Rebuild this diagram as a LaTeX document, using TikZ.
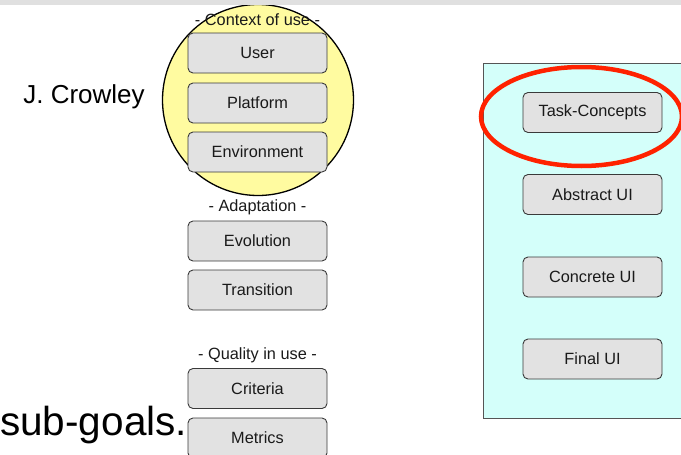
\documentclass[tikz,border=0pt]{standalone}
\usepackage{fontspec}
\setmainfont{Liberation Sans}
\usetikzlibrary{shapes.geometric}
\definecolor{boxfill}{HTML}{E2E2E2}
\definecolor{boxline}{HTML}{3A3A3A}
\definecolor{ctxyellow}{HTML}{FFFBA0}
\definecolor{panelcyan}{HTML}{D4FFFA}
\definecolor{panelline}{HTML}{555555}
\definecolor{ringred}{HTML}{FF2200}
\definecolor{bandgray}{HTML}{E0E0E0}
\definecolor{txt}{HTML}{1A1A1A}
\begin{document}
\begin{tikzpicture}[x=1pt,y=-1pt,
  uibox/.style={draw=boxline, fill=boxfill, line width=0.9pt, rounded corners=5pt,
    minimum width=139pt, minimum height=40pt, inner sep=0pt, text=txt,
    font=\fontsize{16.3}{19}\selectfont},
  grouplabel/.style={inner sep=0pt, text=txt, font=\fontsize{16.3}{19}\selectfont}]
\useasboundingbox (0,0) rectangle (681,455);
\clip (0,0) rectangle (681,455);
% context circle
\node[circle, draw=black, line width=1.3pt, fill=ctxyellow, minimum size=191pt, inner sep=0pt] (ctx) at (258,100) {};
% right panel
\node[draw=panelline, fill=panelcyan, line width=1pt, minimum width=210pt, minimum height=355pt, inner sep=0pt, anchor=north west] (panel) at (483,63) {};
% top band
\fill[bandgray] (0,0) rectangle (681,5);
% labels
\node[grouplabel] (lctx) at (257.5,20) {- Context of use -};
\node[grouplabel] (lada) at (257.5,207.5) {- Adaptation -};
\node[grouplabel] (lqua) at (257.5,355) {- Quality in use -};
% left boxes
\node[uibox] (user) at (257.5,53) {User};
\node[uibox] (plat) at (257.5,103) {Platform};
\node[uibox] (env) at (257.5,152) {Environment};
\node[uibox] (evo) at (257.5,241) {Evolution};
\node[uibox] (trans) at (257.5,290) {Transition};
\node[uibox] (crit) at (257.5,388.5) {Criteria};
\node[uibox] (metr) at (257.5,438) {Metrics};
% right boxes
\node[uibox] (task) at (592.5,112.5) {Task-Concepts};
\node[uibox] (abs) at (592.5,194.5) {Abstract UI};
\node[uibox] (conc) at (592.5,277) {Concrete UI};
\node[uibox] (fin) at (592.5,359) {Final UI};
% red ring
\node[ellipse, draw=ringred, line width=4.5pt, minimum width=201pt, minimum height=99pt, inner sep=0pt] (ring) at (581.5,116.5) {};
% side texts
\node[inner sep=0pt, anchor=base, font=\fontsize{26}{31}\selectfont, text=black] (crowley) at (84,103) {J. Crowley};
\node[inner sep=0pt, anchor=base west, font=\fontsize{40.5}{48}\selectfont, text=black] (subgoals) at (0,435) {sub-goals.};
\end{tikzpicture}
\end{document}
